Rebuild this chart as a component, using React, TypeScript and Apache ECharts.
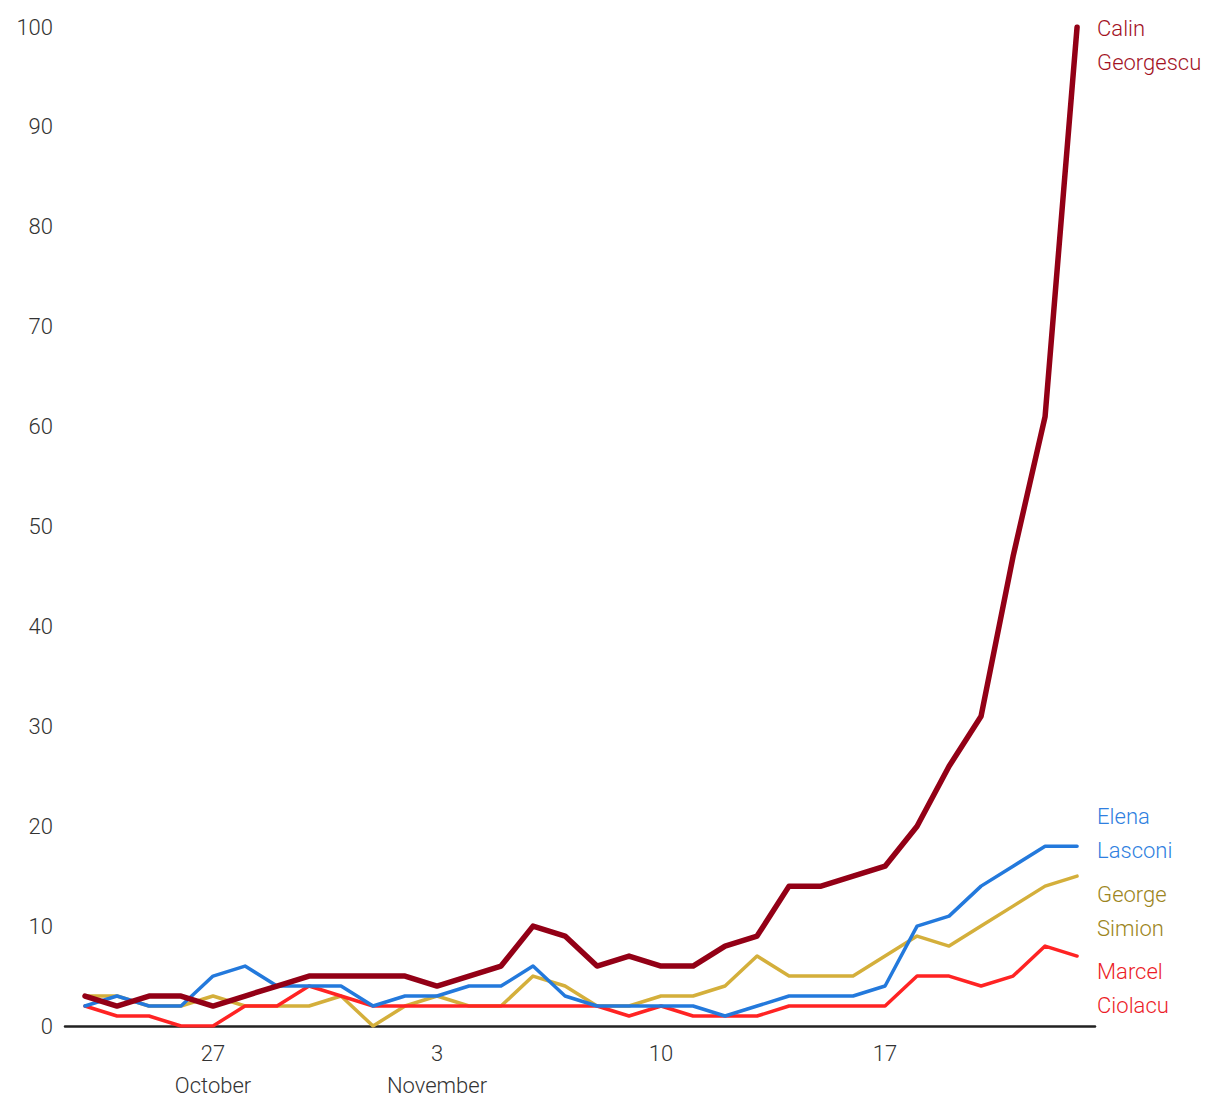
import React, { useEffect, useRef } from "react";
import * as echarts from "echarts";

// Daily values, 23 October .. 23 November (index 0..31)
const georgescu = [3, 2, 3, 3, 2, 3, 4, 5, 5, 5, 5, 4, 5, 6, 10, 9, 6, 7, 6, 6, 8, 9, 14, 14, 15, 16, 20, 26, 31, 47, 61, 100];
const lasconi = [2, 3, 2, 2, 5, 6, 4, 4, 4, 2, 3, 3, 4, 4, 6, 3, 2, 2, 2, 2, 1, 2, 3, 3, 3, 4, 10, 11, 14, 16, 18, 18];
const simion = [3, 3, 2, 2, 3, 2, 2, 2, 3, 0, 2, 3, 2, 2, 5, 4, 2, 2, 3, 3, 4, 7, 5, 5, 5, 7, 9, 8, 10, 12, 14, 15];
const ciolacu = [2, 1, 1, 0, 0, 2, 2, 4, 3, 2, 2, 2, 2, 2, 2, 2, 2, 1, 2, 1, 1, 1, 2, 2, 2, 2, 5, 5, 4, 5, 8, 7];

const tickIndex = [4, 11, 18, 25];
const tickLabels = ["27\nOctober", "3\nNovember", "10", "17"];

const FONT = "Roboto";
const WEIGHT = 300;

function toPairs(values: number[]) {
  return values.map((v, i) => [i, v]);
}

export default function App() {
  const ref = useRef<HTMLDivElement>(null);

  useEffect(() => {
    if (!ref.current) return;
    const chart = echarts.init(ref.current, null, { renderer: "svg" });

    const mk = (
      name: string,
      label: string,
      values: number[],
      lineColor: string,
      labelColor: string,
      width: number,
      dy: number,
      z: number
    ) => ({
      type: "line",
      name,
      data: toPairs(values),
      showSymbol: false,
      symbol: "none",
      z,
      lineStyle: { color: lineColor, width, cap: "round", join: "round" },
      itemStyle: { color: lineColor },
      emphasis: { disabled: true },
      endLabel: {
        show: true,
        formatter: () => label,
        color: labelColor,
        fontFamily: FONT,
        fontWeight: WEIGHT,
        fontSize: 22,
        lineHeight: 34,
        align: "left",
        verticalAlign: "middle",
        distance: 0,
        offset: [20, dy],
      },
    });

    chart.setOption({
      animation: false,
      textStyle: { fontFamily: FONT },
      grid: { left: 65, right: 125, top: 27, bottom: 94 },
      xAxis: {
        type: "value",
        min: -0.625,
        max: 31.56,
        axisLine: { show: true, lineStyle: { color: "#222", width: 2.5 } },
        axisTick: { show: false },
        splitLine: { show: false },
        axisLabel: {
          customValues: tickIndex,
          formatter: (v: number) => {
            const k = tickIndex.indexOf(Math.round(v));
            return k >= 0 ? tickLabels[k] : "";
          },
          color: "#333",
          fontFamily: FONT,
          fontWeight: WEIGHT,
          fontSize: 22,
          lineHeight: 32,
          margin: 11,
        },
      },
      yAxis: {
        type: "value",
        min: 0,
        max: 100,
        interval: 10,
        axisLine: { show: false },
        axisTick: { show: false },
        splitLine: { show: false },
        axisLabel: {
          color: "#333",
          fontFamily: FONT,
          fontWeight: WEIGHT,
          fontSize: 22,
          margin: 12,
        },
      },
      series: [
        mk("George Simion", "George\nSimion", simion, "#d4af3b", "#9c8521", 3.5, 35, 2),
        mk("Marcel Ciolacu", "Marcel\nCiolacu", ciolacu, "#ff2323", "#ec1c28", 3.5, 32, 3),
        mk("Elena Lasconi", "Elena\nLasconi", lasconi, "#2379dc", "#2f7fe0", 3.5, -13, 4),
        mk("Calin Georgescu", "Calin\nGeorgescu", georgescu, "#930016", "#a3121f", 5.5, 18, 5),
      ],
    });

    return () => chart.dispose();
  }, []);

  return (
    <div
      ref={ref}
      style={{ position: "fixed", left: 0, top: 0, width: 1220, height: 1120, background: "#fff" }}
    />
  );
}
